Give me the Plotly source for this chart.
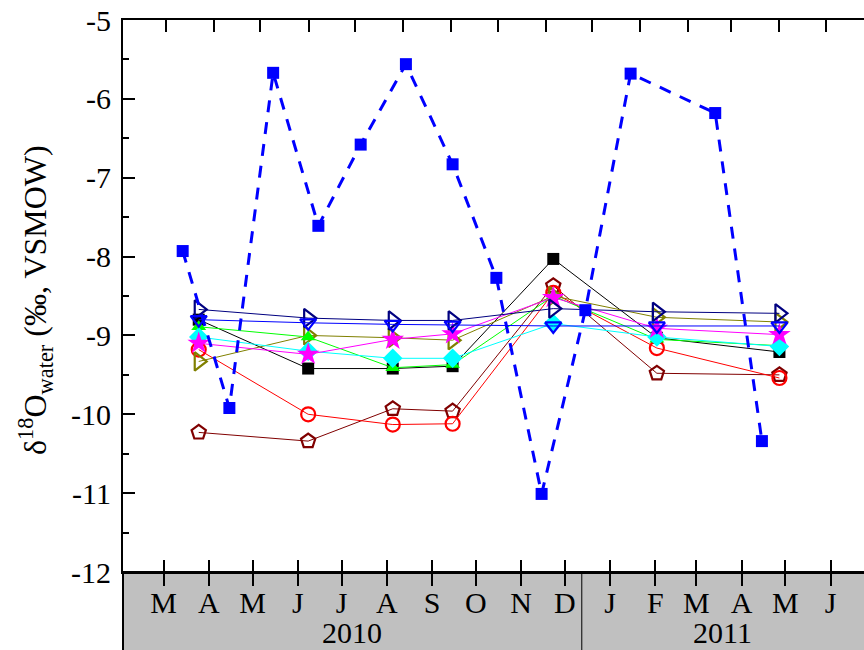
import plotly.graph_objects as go
import pandas as pd

# ---------------- data ----------------
blue_dates = ["2010-03-28", "2010-04-29", "2010-05-29", "2010-06-29", "2010-07-28",
              "2010-08-28", "2010-09-29", "2010-10-29", "2010-11-29", "2010-12-29",
              "2011-01-29", "2011-03-28", "2011-04-29"]
blue_vals = [-7.93, -9.92, -5.67, -7.61, -6.58, -5.56, -6.83, -8.27, -11.01, -8.68,
             -5.68, -6.18, -10.34]

site_dates = ["2010-04-08", "2010-06-22", "2010-08-19", "2010-09-29", "2010-12-07",
              "2011-02-16", "2011-05-11"]
black_vals = [-8.80, -9.42, -9.42, -9.39, -8.03, -9.03, -9.21]
maroon_vals = [-10.23, -10.34, -9.93, -9.96, -8.37, -9.48, -9.50]
red_vals = [-9.18, -10.00, -10.13, -10.12, -8.46, -9.16, -9.54]
olive_vals = [-9.33, -9.00, -9.03, -9.06, -8.50, -8.77, -8.83]
green_vals = [-8.89, -9.02, -9.41, -9.37, -8.50, -9.05, -9.13]
cyan_vals = [-9.02, -9.20, -9.29, -9.29, -8.85, -9.02, -9.14]
magenta_vals = [-9.10, -9.24, -9.05, -8.98, -8.52, -8.91, -8.99]
navy_vals = [-8.67, -8.78, -8.81, -8.81, -8.66, -8.70, -8.72]
blueopen_vals = [-8.80, -8.84, -8.86, -8.87, -8.88, -8.88, -8.88]

month_ticks = ["2010-03-15", "2010-04-15", "2010-05-15", "2010-06-15", "2010-07-15",
               "2010-08-15", "2010-09-15", "2010-10-15", "2010-11-15", "2010-12-15",
               "2011-01-15", "2011-02-15", "2011-03-15", "2011-04-15", "2011-05-15",
               "2011-06-15"]
month_labels = ["M", "A", "M", "J", "J", "A", "S", "O", "N", "D",
                "J", "F", "M", "A", "M", "J"]
year_labels = ["2010", "2011"]
y_ticks = [-12, -11, -10, -9, -8, -7, -6, -5]
y_labels = ["-12", "-11", "-10", "-9", "-8", "-7", "-6", "-5"]

# ---------------- layout geometry ----------------
W, H = 864, 650
ML, MR, MT, MB = 123, 0, 20, 78
FONT = "Liberation Serif, Times New Roman, serif"
FS = 30

anchor = pd.Timestamp("2010-03-15")
x0 = anchor - pd.Timedelta(days=27.9)
x1 = anchor + pd.Timedelta(days=479.96)
top_anchor = pd.Timestamp("2010-03-01")
tx0 = top_anchor - pd.Timedelta(days=27.76)
tx1 = top_anchor + pd.Timedelta(days=450.6)
divider = pd.Timestamp("2010-12-26 13:00")

fig = go.Figure()

def site(vals, color, symbol, size, lw=2.2, fill=None):
    fig.add_trace(go.Scatter(
        x=site_dates, y=vals, mode="lines+markers",
        line=dict(color=color, width=1),
        marker=dict(symbol=symbol, size=size, color=fill if fill else color,
                    line=dict(color=color, width=lw)),
        showlegend=False, hoverinfo="skip"))

site(black_vals, "#000000", "square", 12, lw=0)
site(maroon_vals, "#800000", "pentagon-open", 15)
site(red_vals, "#FF0000", "circle-open", 14)
site(olive_vals, "#808000", "triangle-right-open", 16)
site(green_vals, "#00FF00", "triangle-up", 13, lw=0)
site(cyan_vals, "#00FFFF", "diamond", 15, lw=0)
site(magenta_vals, "#FF00FF", "star", 17, lw=0)
site(navy_vals, "#000080", "triangle-right-open", 16)
site(blueopen_vals, "#0000FF", "triangle-down-open", 14)

fig.add_trace(go.Scatter(
    x=blue_dates, y=blue_vals, mode="lines+markers",
    line=dict(color="#0000FF", width=3, dash="12px,10px"),
    marker=dict(symbol="square", size=12, color="#0000FF"),
    showlegend=False, hoverinfo="skip"))

# helper traces for extra axes (empty)
fig.add_trace(go.Scatter(x=[], y=[], xaxis="x2", showlegend=False))
fig.add_trace(go.Scatter(x=[], y=[], xaxis="x3", showlegend=False))

# gray band + divider
fig.add_shape(type="rect", xref="paper", yref="paper", x0=0, x1=1.2, y0=-0.3, y1=0,
              fillcolor="#C0C0C0", line=dict(color="#000000", width=2), layer="below")
fig.add_shape(type="line", xref="x", yref="paper", x0=divider, x1=divider, y0=-0.3, y1=0,
              line=dict(color="#000000", width=1), layer="below")

mid2010 = x0 + (divider - x0) / 2
mid2011 = divider + (x1 - divider) / 2
for xm, txt in zip([mid2010, mid2011], year_labels):
    fig.add_annotation(x=xm, xref="x", y=-0.1105, yref="paper", text=txt,
                       showarrow=False, xanchor="center", yanchor="middle",
                       font=dict(family=FONT, size=FS, color="#000"))

fig.add_annotation(x=(35 - ML) / (W - ML - MR), xref="paper",
                   y=(H - MB - 300) / (H - MB - MT), yref="paper",
                   text="δ<sup>18</sup>O<sub>water</sub> (‰, VSMOW)", textangle=-90,
                   showarrow=False, xanchor="center", yanchor="middle",
                   font=dict(family=FONT, size=32, color="#000"))

fig.update_layout(
    width=W, height=H, margin=dict(l=ML, r=MR, t=MT, b=MB, autoexpand=False),
    paper_bgcolor="white", plot_bgcolor="white",
    font=dict(family=FONT, size=FS, color="#000"),
    xaxis=dict(type="date", range=[x0, x1], showgrid=False, zeroline=False,
               showline=True, linecolor="#000", linewidth=2,
               tickmode="array", tickvals=month_ticks, ticktext=month_labels,
               ticks="outside", ticklen=12, tickwidth=2, tickcolor="#000",
               ticklabelstandoff=-9,
               tickfont=dict(family=FONT, size=FS, color="#000")),
    xaxis3=dict(type="date", range=[x0, x1], overlaying="x", anchor="y", side="bottom",
                showgrid=False, zeroline=False, showline=False,
                tickmode="array", tickvals=month_ticks, ticks="inside", ticklen=12,
                tickwidth=2, tickcolor="#000", showticklabels=False),
    xaxis2=dict(type="date", range=[tx0, tx1], overlaying="x", anchor="y", side="top",
                showgrid=False, zeroline=False, showline=True, linecolor="#000",
                linewidth=2, tick0="2010-03-01", dtick="M1", ticks="inside",
                ticklen=12, tickwidth=2, tickcolor="#000", showticklabels=False),
    yaxis=dict(range=[-12, -5], showgrid=False, zeroline=False, showline=True,
               linecolor="#000", linewidth=2, tickmode="array", tickvals=y_ticks,
               ticktext=y_labels, ticks="inside", ticklen=12, tickwidth=2,
               tickcolor="#000", ticklabelstandoff=4,
               tickfont=dict(family=FONT, size=FS, color="#000"),
               minor=dict(dtick=0.5, ticks="inside", ticklen=6, tickwidth=2,
                          tickcolor="#000", tick0=-12)),
)

fig.write_html("out.html", config={"displayModeBar": False},
               post_script="document.body.style.margin='0';document.body.style.overflow='hidden';")
